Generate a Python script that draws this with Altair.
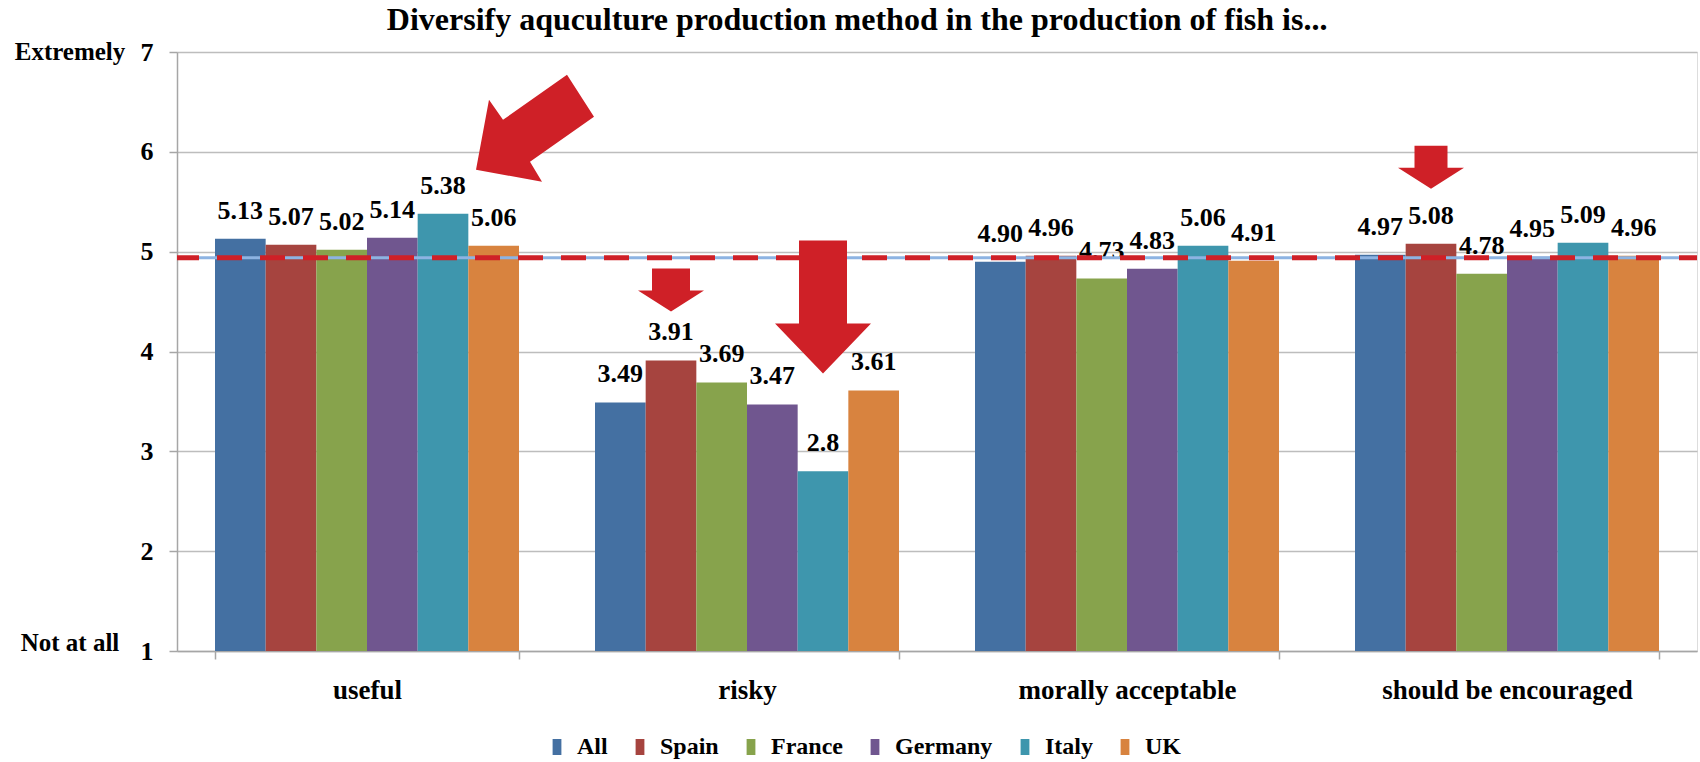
import altair as alt
import pandas as pd

# Survey items (x groups) and respondent groups (bars within each item)
categories = ["useful", "risky", "morally acceptable", "should be encouraged"]
countries = ["All", "Spain", "France", "Germany", "Italy", "UK"]

# Mean scores on a 1-7 scale, one list per respondent group (same order as categories)
all_scores = ["5.13", "3.49", "4.90", "4.97"]
spain_scores = ["5.07", "3.91", "4.96", "5.08"]
france_scores = ["5.02", "3.69", "4.73", "4.78"]
germany_scores = ["5.14", "3.47", "4.83", "4.95"]
italy_scores = ["5.38", "2.8", "5.06", "5.09"]
uk_scores = ["5.06", "3.61", "4.91", "4.96"]

# Overall reference level drawn across the plot
reference_level = [4.94]

# Y axis ticks and the verbal anchors of the scale
y_ticks = [1, 2, 3, 4, 5, 6, 7]
anchor_values = [7, 1]
anchor_texts = ["Extremely", "Not at all"]

# Highlight arrows: item, group and the score their tip points at
arrow_ids = ["a1", "a2", "a3", "a4"]
arrow_categories = ["useful", "risky", "risky", "should be encouraged"]
arrow_countries = ["Italy", "Spain", "Italy", "Spain"]
arrow_tips = [5.82, 4.40, 3.78, 5.63]

country_colors = ["#4470A2", "#A6443F", "#87A34C", "#70568F", "#3E96AD", "#D8833F"]
arrow_red = "#CF2027"
FONT = "Liberation Serif"

# Arrow outlines in pixels around the anchor point (symbol size 4 => unit scale)
arrow_paths = [
    "M33,0 L46,-70 L60,-50 L124,-95 L151,-53 L87,-8 L99,12 Z",
    "M0,0 L-33,-21 L-19,-21 L-19,-43 L19,-43 L19,-21 L33,-21 Z",
    "M0,0 L-48,-50 L-24,-50 L-24,-133 L24,-133 L24,-50 L48,-50 Z",
    "M0,0 L-33,-21 L-16.5,-21 L-16.5,-43 L16.5,-43 L16.5,-21 L33,-21 Z",
]

score_lists = [all_scores, spain_scores, france_scores, germany_scores, italy_scores, uk_scores]
rows = []
for country, scores in zip(countries, score_lists):
    for cat, s in zip(categories, scores):
        rows.append({"category": cat, "country": country, "label": s, "score": float(s)})
df = pd.DataFrame(rows)

arrows_df = pd.DataFrame({
    "arrow": arrow_ids,
    "category": arrow_categories,
    "country": arrow_countries,
    "tip": arrow_tips,
})
anchors_df = pd.DataFrame({"value": anchor_values, "text": anchor_texts})
ref_df = pd.DataFrame({"level": reference_level})

x_enc = alt.X(
    "category:N",
    sort=categories,
    scale=alt.Scale(domain=categories, paddingInner=0.2, paddingOuter=0.1),
    axis=alt.Axis(
        title=None, labelAngle=0, labelFont=FONT, labelFontSize=27,
        labelFontWeight="bold", labelColor="black", labelPadding=18, labelLimit=0,
        tickBand="extent", tickSize=8, tickColor="#A6A6A6", tickWidth=1.5,
        domainColor="#A6A6A6", domainWidth=1.5, grid=False,
    ),
)
xoff_enc = alt.XOffset("country:N", scale=alt.Scale(domain=countries, paddingInner=0, paddingOuter=0))
y_scale = alt.Scale(domain=[1, 7], nice=False, zero=False)

bars = alt.Chart(df).mark_bar().encode(
    x=x_enc,
    xOffset=xoff_enc,
    y=alt.Y(
        "score:Q",
        scale=y_scale,
        axis=alt.Axis(
            title=None, values=y_ticks, format="d", labelFont=FONT, labelFontSize=26,
            labelFontWeight="bold", labelColor="black", labelPadding=16,
            tickSize=8, tickColor="#A6A6A6", tickWidth=1.5,
            domainColor="#A6A6A6", domainWidth=1.5,
            gridColor="#BDBDBD", gridWidth=1.5,
        ),
    ),
    y2=alt.datum(1),
    color=alt.Color(
        "country:N",
        scale=alt.Scale(domain=countries, range=country_colors),
        legend=alt.Legend(
            title=None, orient="none", legendX=368, legendY=683,
            direction="horizontal", columns=6, padding=0,
            symbolType="M-0.55,-1 L0.55,-1 L0.55,1 L-0.55,1 Z", symbolSize=256,
            symbolStrokeWidth=0, labelFont=FONT, labelFontSize=24,
            labelFontWeight="bold", labelColor="black", labelOffset=8,
            columnPadding=20,
        ),
    ),
)

value_labels = alt.Chart(df).mark_text(
    font=FONT, fontSize=26, fontWeight="bold", color="black",
    baseline="alphabetic", dy=-20,
).encode(
    x=alt.X("category:N", sort=categories),
    xOffset=alt.XOffset("country:N"),
    y=alt.Y("score:Q", scale=y_scale),
    text=alt.Text("label:N"),
)

blue_line = alt.Chart(ref_df).mark_rule(color="#8DB3E2", strokeWidth=3).encode(
    y=alt.Y("level:Q", scale=y_scale)
)
red_dash = alt.Chart(ref_df).mark_rule(
    color=arrow_red, strokeWidth=5, strokeDash=[25, 18], strokeDashOffset=7
).encode(y=alt.Y("level:Q", scale=y_scale))

arrows = alt.Chart(arrows_df).mark_point(
    filled=True, size=4, opacity=1, strokeWidth=0, color=arrow_red
).encode(
    x=alt.X("category:N", sort=categories),
    xOffset=alt.XOffset("country:N"),
    y=alt.Y("tip:Q", scale=y_scale),
    shape=alt.Shape("arrow:N", scale=alt.Scale(domain=arrow_ids, range=arrow_paths), legend=None),
)

top_anchor = alt.Chart(anchors_df).transform_filter(alt.datum.value == 7).mark_text(
    font=FONT, fontSize=25, fontWeight="bold", color="black", align="center", baseline="middle"
).encode(x=alt.value(-107), y=alt.Y("value:Q", scale=y_scale), text="text:N")

bottom_anchor = alt.Chart(anchors_df).transform_filter(alt.datum.value == 1).mark_text(
    font=FONT, fontSize=25, fontWeight="bold", color="black", align="center", baseline="middle", dy=-8
).encode(x=alt.value(-107), y=alt.Y("value:Q", scale=y_scale), text="text:N")

chart = alt.layer(
    bars, value_labels, blue_line, red_dash, arrows, top_anchor, bottom_anchor
).properties(
    width=1520,
    height=599,
    title=alt.Title(
        "Diversify aquculture production method in the production of fish is...",
        font=FONT, fontSize=32, fontWeight="bold", color="black",
        anchor="middle", frame="bounds", offset=2,
    ),
    autosize=alt.AutoSizeParams(type="none"),
    padding={"left": 177, "top": 52, "right": 3, "bottom": 111},
).configure_view(stroke=None).configure(background="white")

chart.save("out.html", embed_options={"renderer": "svg", "actions": False})
